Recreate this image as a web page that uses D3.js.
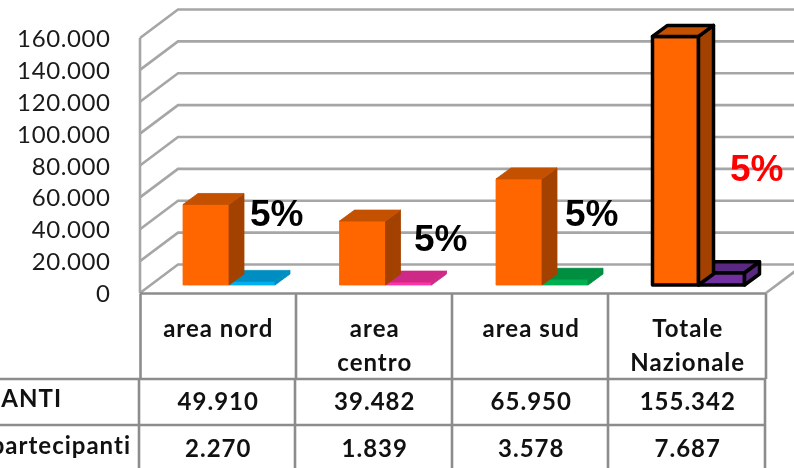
<!DOCTYPE html>
<html>
<head>
<meta charset="utf-8">
<script src="https://cdn.jsdelivr.net/npm/d3@7"></script>
<style>
body { margin: 0; background: #fff; overflow: hidden; }
svg { display: block; filter: blur(0.4px); }
</style>
</head>
<body>
<svg id="chart" width="794" height="468"></svg>
<script>
const categories = ["area nord", "area centro", "area sud", "Totale Nazionale"];
const abitanti = [49910, 39482, 65950, 155342];
const partecipanti = [2270, 1839, 3578, 7687];
const tickValues = [0, 20000, 40000, 60000, 80000, 100000, 120000, 140000, 160000];
const percentLabels = ["5%", "5%", "5%", "5%"];
const thinColors = ["#00b0f0", "#ff33a6", "#00b050", "#7030a0"];
const rowLabels = ["IANTI", "partecipanti"];

const svg = d3.select("#chart");
const itNumber = d3.formatLocale({ decimal: ",", thousands: ".", grouping: [3], currency: ["", "€"] }).format(",");

const y = d3.scaleLinear().domain([0, 160000]).range([293, 38]);
const x = d3.scaleBand().domain(categories).range([140, 766]);
const inner = d3.scaleBand().domain(["abitanti", "partecipanti"]).range([43, 135]);

const wallX = 38, wallY = 28.5;   // depth of the back wall
const barX = 15, barY = 11;       // depth of the bars
const barBase = y(0) - 8;
const grey = "#a6a6a6";

// walls and gridlines
const grid = svg.append("g").attr("fill", "none").attr("stroke", grey).attr("stroke-width", 2.6);
tickValues.forEach(t => {
    grid.append("path").attr("d", `M140,${y(t)}L${140 + wallX},${y(t) - wallY}L794,${y(t) - wallY}`);
});
grid.append("line").attr("x1", 140).attr("x2", 140).attr("y1", y(160000)).attr("y2", y(0));
grid.append("line").attr("x1", 766).attr("x2", 766 + wallX).attr("y1", y(0)).attr("y2", y(0) - wallY);

// y axis labels
svg.append("g").selectAll("text").data(tickValues).join("text")
    .attr("x", 110.5)
    .attr("y", d => y(d) + 9)
    .attr("text-anchor", "end")
    .attr("font-family", "Lato")
    .attr("font-size", 24)
    .attr("letter-spacing", 0.6)
    .attr("fill", "#1a1a1a")
    .text(d => itNumber(d));

// one 3d box
const box = (g, left, width, top, front, side, upper, outline) => {
    const faces = [
        [`M${left},${barBase}V${top}H${left + width}V${barBase}Z`, front],
        [`M${left + width},${barBase}V${top}L${left + width + barX},${top - barY}V${barBase - barY}Z`, side],
        [`M${left},${top}L${left + barX},${top - barY}H${left + width + barX}L${left + width},${top}Z`, upper]
    ];
    faces.forEach(f => {
        g.append("path").attr("d", f[0]).attr("fill", f[1])
            .attr("stroke", outline || f[1]).attr("stroke-width", outline ? 3.5 : 0.8)
            .attr("stroke-linejoin", "round");
    });
};

const bars = svg.append("g");
categories.forEach((c, i) => {
    const outline = i == 3 ? "#000" : null;
    const left = x(c) + inner("abitanti");
    const thinLeft = x(c) + inner("partecipanti");
    const g = bars.append("g");
    const tone = d3.color(thinColors[i]);
    box(g, thinLeft, inner.bandwidth(), y(partecipanti[i]) - 8, thinColors[i], tone.darker(0.6).formatHex(), tone.darker(0.6).formatHex(), outline);
    box(g, left, inner.bandwidth(), y(abitanti[i]) - 9, "#ff6600", "#a34100", "#c45100", outline);
});

// percentage labels
const labelX = [250, 414, 565, 730];
const labelY = [226, 251, 226, 181];
svg.append("g").selectAll("text").data(percentLabels).join("text")
    .attr("x", (d, i) => labelX[i])
    .attr("y", (d, i) => labelY[i])
    .attr("font-family", "Liberation Sans")
    .attr("font-weight", "bold")
    .attr("font-size", 37)
    .attr("fill", (d, i) => i == 3 ? "#ff0000" : "#000")
    .text(d => d);

// data table
const rows = [293.5, 379, 425];
const table = svg.append("g").attr("stroke", "#8c8c8c").attr("stroke-width", 2.6);
table.append("line").attr("x1", 140).attr("x2", 766).attr("y1", rows[0]).attr("y2", rows[0]);
table.append("line").attr("x1", 0).attr("x2", 766).attr("y1", rows[1]).attr("y2", rows[1]);
table.append("line").attr("x1", 0).attr("x2", 766).attr("y1", rows[2]).attr("y2", rows[2]);
[140.5, 296, 452, 608, 766].forEach(v => {
    table.append("line").attr("x1", v).attr("x2", v).attr("y1", rows[0]).attr("y2", rows[1]);
});
[139, 295, 452, 608, 765].forEach(v => {
    table.append("line").attr("x1", v).attr("x2", v).attr("y1", rows[1]).attr("y2", 468);
});

const cellText = (g, px, py, s, anchor) => g.append("text")
    .attr("x", px).attr("y", py)
    .attr("text-anchor", anchor || "middle")
    .attr("font-family", "Lato")
    .attr("font-weight", "bold")
    .attr("font-size", 24)
    .attr("letter-spacing", 1)
    .attr("fill", "#111")
    .text(s);

const cells = svg.append("g");
categories.forEach((c, i) => {
    const mid = x(c) + x.bandwidth() / 2;
    const words = i == 0 || i == 2 ? [c] : c.split(" ");
    words.forEach((w, k) => cellText(cells, mid, 337 + k * 34, w));
    cellText(cells, mid, 410, itNumber(abitanti[i]));
    cellText(cells, mid, 457, itNumber(partecipanti[i]));
});
// the reference crops these two row labels at its left edge
cellText(cells, 62, 407, rowLabels[0], "end");
cellText(cells, 131, 454, rowLabels[1], "end");
</script>
</body>
</html>
